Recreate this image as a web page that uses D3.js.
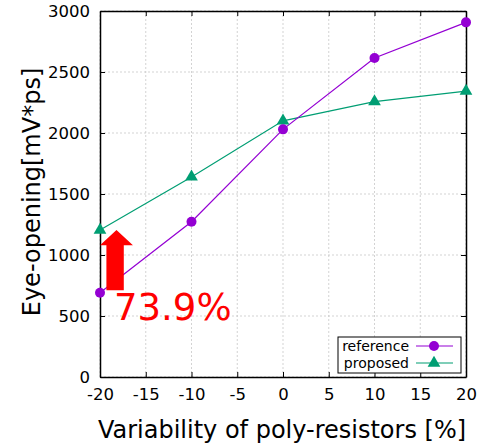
<!DOCTYPE html>
<html>
<head>
<meta charset="utf-8">
<script src="https://cdn.jsdelivr.net/npm/d3@7"></script>
<style>
  body { margin: 0; background: #fff; }
  svg text { font-family: "DejaVu Sans", Verdana, sans-serif; }
</style>
</head>
<body>
<div id="chart"></div>
<script>
// data
var variability = [-20, -10, 0, 10, 20];
var referenceVals = [691, 1273, 2030, 2615, 2907];
var proposedVals = [1205, 1640, 2100, 2257, 2344];
var xTicks = [-20, -15, -10, -5, 0, 5, 10, 15, 20];
var yTicks = [0, 500, 1000, 1500, 2000, 2500, 3000];

var svg = d3.select("#chart").append("svg").attr("width", 484).attr("height", 447);

var x = d3.scaleLinear().domain([-20, 20]).range([100, 466]);
var y = d3.scaleLinear().domain([0, 3000]).range([377, 11]);

// grid
var grid = svg.append("g").attr("stroke", "#c8c8c8").attr("stroke-dasharray", "2,2").attr("stroke-width", 0.8);
xTicks.forEach(function(t){
    grid.append("line").attr("x1", x(t)).attr("x2", x(t)).attr("y1", y(0)).attr("y2", y(3000));
});
yTicks.forEach(function(t){
    grid.append("line").attr("x1", x(-20)).attr("x2", x(20)).attr("y1", y(t)).attr("y2", y(t));
});

// axes, ticks inward on all four sides
function plain(d){ return String(d); }
function styleAxis(g){
    g.select(".domain").attr("stroke", "#000").attr("stroke-width", 1.5);
    g.selectAll(".tick line").attr("stroke", "#000").attr("stroke-width", 1);
    g.selectAll("text").attr("font-size", 16.5).attr("fill", "#000")
        .attr("font-family", "DejaVu Sans, Verdana, sans-serif");
}
svg.append("g").attr("transform", "translate(0,377)")
    .call(d3.axisBottom(x).tickValues(xTicks).tickFormat(plain).tickSizeInner(-5).tickSizeOuter(0).tickPadding(11))
    .call(styleAxis);
svg.append("g").attr("transform", "translate(100,0)")
    .call(d3.axisLeft(y).tickValues(yTicks).tickFormat(plain).tickSizeInner(-5).tickSizeOuter(0).tickPadding(10))
    .call(styleAxis);
svg.append("g").attr("transform", "translate(0,11)")
    .call(d3.axisTop(x).tickValues(xTicks).tickSizeInner(-5).tickSizeOuter(0).tickFormat(""))
    .call(styleAxis);
svg.append("g").attr("transform", "translate(466,0)")
    .call(d3.axisRight(y).tickValues(yTicks).tickSizeInner(-5).tickSizeOuter(0).tickFormat(""))
    .call(styleAxis);

// labels
svg.append("text").attr("x", 282).attr("y", 438).attr("text-anchor", "middle")
    .attr("font-size", 24).text("Variability of poly-resistors [%]");
svg.append("text").attr("transform", "translate(40,192) rotate(-90)").attr("text-anchor", "middle")
    .attr("font-size", 24).text("Eye-opening[mV*ps]");

// series
var purple = "#9400d3", green = "#009e73";
var line = d3.line().x(function(d){ return x(d[0]); }).y(function(d){ return y(d[1]); });
var refData = variability.map(function(v, i){ return [v, referenceVals[i]]; });
var propData = variability.map(function(v, i){ return [v, proposedVals[i]]; });

svg.append("path").datum(propData).attr("d", line).attr("fill", "none")
    .attr("stroke", green).attr("stroke-width", 1.2);
svg.append("path").datum(refData).attr("d", line).attr("fill", "none")
    .attr("stroke", purple).attr("stroke-width", 1.2);

var tri = d3.symbol().type(d3.symbolTriangle).size(70);
svg.selectAll(".prop").data(propData).enter().append("path").attr("class", "prop")
    .attr("d", tri).attr("fill", green)
    .attr("transform", function(d){ return "translate(" + x(d[0]) + "," + y(d[1]) + ")"; });
svg.selectAll(".ref").data(refData).enter().append("circle").attr("class", "ref")
    .attr("cx", function(d){ return x(d[0]); }).attr("cy", function(d){ return y(d[1]); })
    .attr("r", 5).attr("fill", purple);

// red arrow annotation
var ax0 = x(-20), ax1 = x(-16.4);
var shL = x(-19.3), shR = x(-17.4);
var tipY = y(1205), headY = y(1080), botY = y(712);
svg.append("path")
    .attr("d", "M" + (ax0 + ax1) / 2 + "," + tipY + " L" + ax1 + "," + headY + " L" + shR + "," + headY +
        " L" + shR + "," + botY + " L" + shL + "," + botY + " L" + shL + "," + headY + " L" + ax0 + "," + headY + "Z")
    .attr("fill", "#ff0000");
svg.append("text").attr("x", 114).attr("y", 320).attr("font-size", 37).attr("fill", "#ff0000").text("73.9%");

// legend
var lg = svg.append("g");
lg.append("rect").attr("x", 338).attr("y", 337).attr("width", 123).attr("height", 36)
    .attr("fill", "#fff").attr("stroke", "#000").attr("stroke-width", 1);
var legendItems = [["reference", purple, "circle"], ["proposed", green, "tri"]];
legendItems.forEach(function(item, i){
    var ly = 346 + i * 17;
    lg.append("text").attr("x", 409).attr("y", ly + 5).attr("text-anchor", "end")
        .attr("font-size", 14).text(item[0]);
    lg.append("line").attr("x1", 416).attr("x2", 453).attr("y1", ly).attr("y2", ly)
        .attr("stroke", item[1]).attr("stroke-width", 1.2);
    if(item[2] == "circle"){
        lg.append("circle").attr("cx", 434).attr("cy", ly).attr("r", 5).attr("fill", item[1]);
    }else{
        lg.append("path").attr("d", tri).attr("fill", item[1]).attr("transform", "translate(434," + ly + ")");
    }
});
</script>
</body>
</html>
